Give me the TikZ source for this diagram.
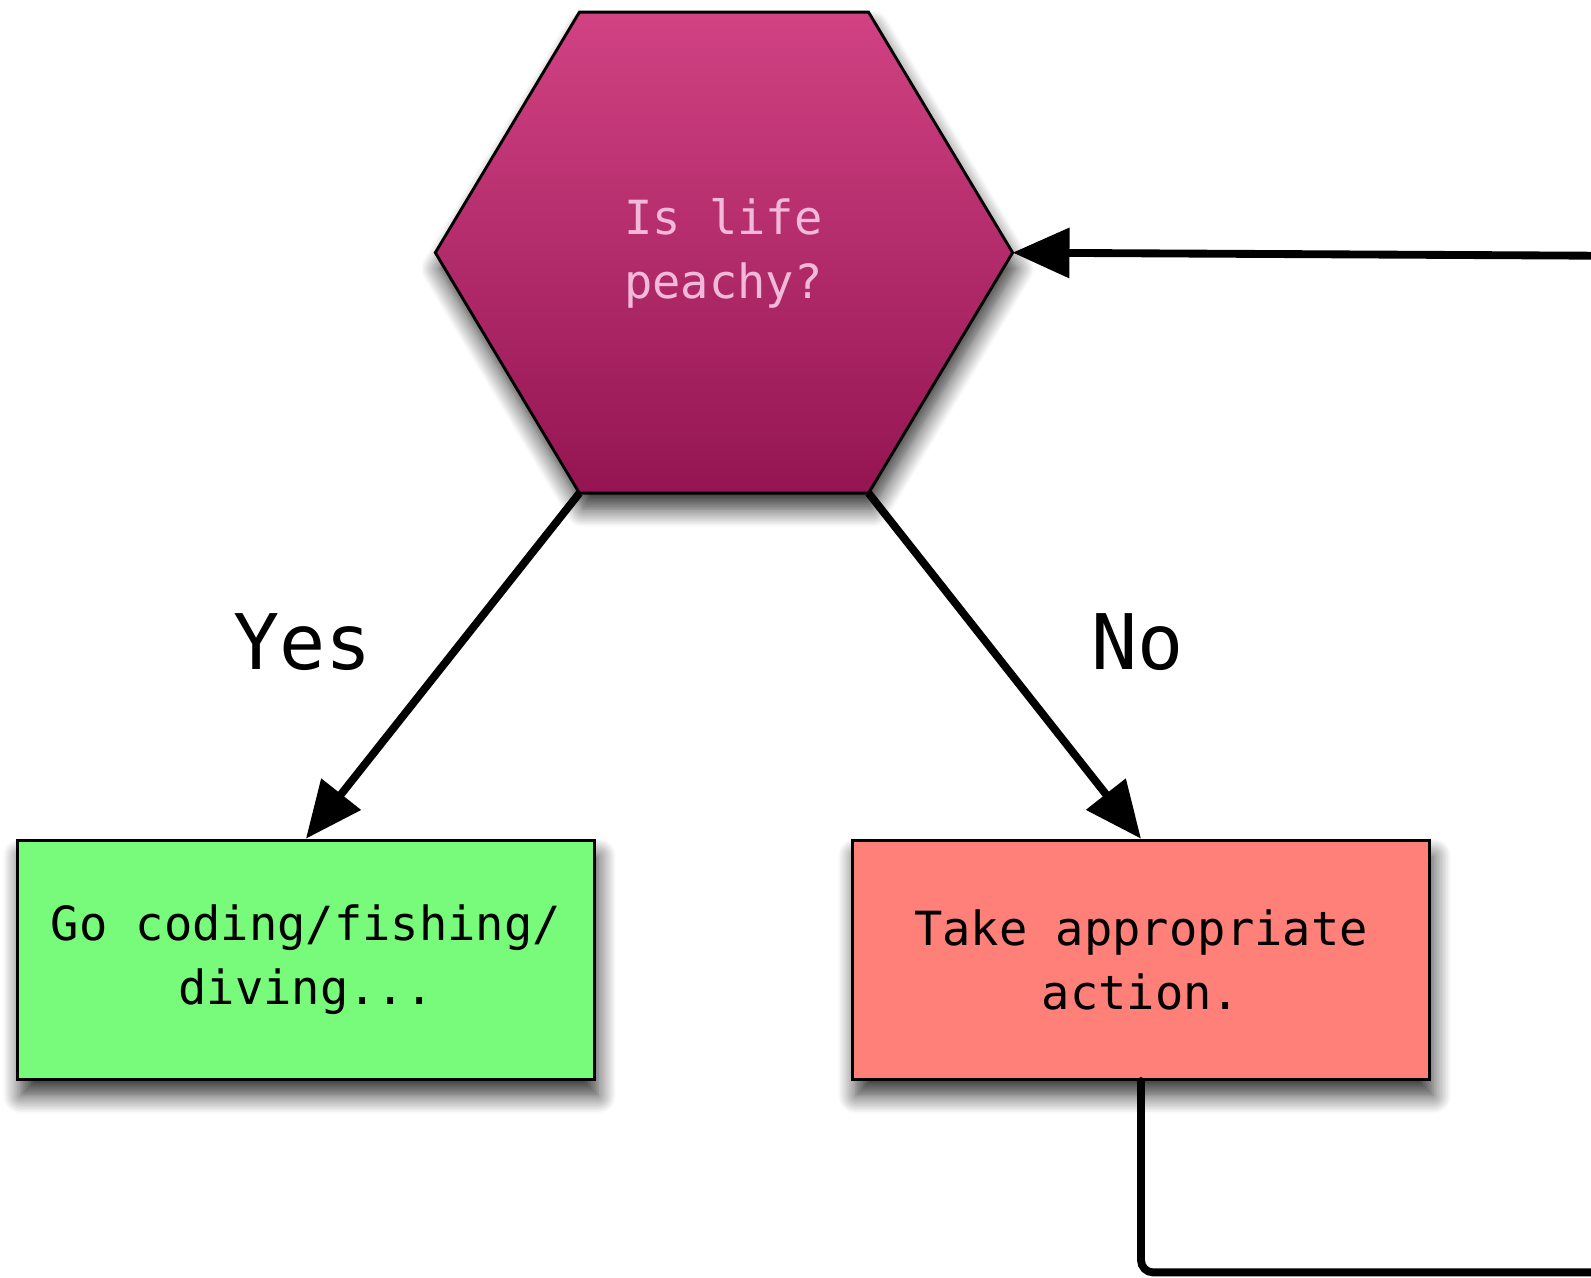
\documentclass[tikz,border=0pt]{standalone}
\usepackage{fontspec}
\setmonofont{DejaVu Sans Mono}
\usetikzlibrary{arrows.meta, shadows.blur, positioning}

\definecolor{hextop}{RGB}{209,66,131}
\definecolor{hexbottom}{RGB}{148,21,82}
\definecolor{hextext}{RGB}{242,186,218}
\definecolor{yesgreen}{RGB}{120,250,122}
\definecolor{nored}{RGB}{255,127,121}

\tikzset{
  soft shadow/.style={blur shadow={shadow xshift=1pt, shadow yshift=-4.5pt, shadow blur radius=5pt, shadow blur steps=12, shadow opacity=80}},
  choice/.style={draw, line width=0.8pt, minimum width=5.69cm, minimum height=2.36cm,
    inner sep=0pt, align=center, font=\ttfamily\fontsize{13.2}{18}\selectfont, soft shadow},
  flow/.style={line width=2.2pt, -{Triangle[length=0.56cm, width=0.48cm]}},
  answer/.style={anchor=base, font=\ttfamily\fontsize{21.5}{26}\selectfont}
}

\begin{document}
\begin{tikzpicture}
    \useasboundingbox (0,0) rectangle (15.68,-12.59);

    % Corners of the question hexagon
    \coordinate (hexL)  at (4.29,-2.49);
    \coordinate (hexTL) at (5.71,-0.12);
    \coordinate (hexTR) at (8.56,-0.12);
    \coordinate (hexR)  at (9.98,-2.49);
    \coordinate (hexBR) at (8.56,-4.86);
    \coordinate (hexBL) at (5.71,-4.86);

    % Loose ends of the feedback loop
    \coordinate (loopin)  at (15.68,-2.52);
    \coordinate (loopout) at (15.68,-12.54);

    % The two outcomes
    \node[choice, fill=yesgreen] (yes) at (3.015,-9.46) {Go coding/fishing/\\diving...};
    \node[choice, fill=nored] (no) at (11.245,-9.46) {Take appropriate\\action.};

    % Arrows down to the outcomes, and back into the question
    \draw[flow] (hexBL) -- (yes.north);
    \draw[flow] (hexBR) -- (no.north);
    \draw[flow] (loopin) -- (hexR);

    % The hexagon itself
    \shadedraw[top color=hextop, bottom color=hexbottom, line width=0.8pt, soft shadow]
        (hexL) -- (hexTL) -- (hexTR) -- (hexR) -- (hexBR) -- (hexBL) -- cycle;
    \node[text=hextext, align=center, font=\ttfamily\fontsize{13.2}{18}\selectfont] (peachy) at (7.13,-2.50) {Is life\\peachy?};

    % Answer labels
    \node[answer] (yeslabel) at (2.98,-6.60) {Yes};
    \node[answer] (nolabel) at (11.21,-6.60) {No};

    % Way out of the action box
    \draw[line width=2.2pt, line cap=round, rounded corners=0.12cm] (no.south) |- (loopout);
\end{tikzpicture}
\end{document}
